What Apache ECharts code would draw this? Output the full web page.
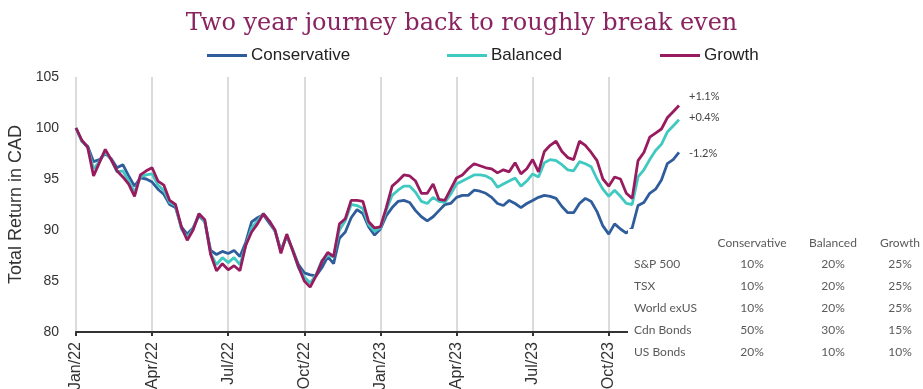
<!DOCTYPE html>
<html>
<head>
<meta charset="utf-8">
<script src="https://cdn.jsdelivr.net/npm/echarts@6/dist/echarts.min.js"></script>
<style>
  html, body { margin: 0; padding: 0; background: #fff; }
  #chart { width: 923px; height: 389px; }
</style>
</head>
<body>
<div id="chart"></div>
<script>
// Weekly index levels (start = 100), first week of Jan 2022 to last week of Dec 2023
const conservative = [
  100.0, 98.7, 98.2, 96.7, 96.9, 97.5, 97.0, 96.1, 96.4, 95.3,
  94.3, 95.1, 95.0, 94.7, 94.0, 93.5, 92.5, 92.2, 90.3, 89.6,
  90.2, 91.4, 90.8, 88.0, 87.6, 87.9, 87.7, 88.0, 87.4, 88.8,
  90.8, 91.2, 91.5, 90.7, 89.9, 88.0, 89.4, 88.1, 86.6, 85.8,
  85.6, 85.5, 86.3, 87.4, 86.7, 89.2, 89.8, 91.2, 92.0, 91.6,
  90.3, 89.5, 90.1, 91.4, 92.2, 92.8, 92.9, 92.7, 91.9, 91.3,
  90.9, 91.3, 91.9, 92.5, 92.6, 93.2, 93.4, 93.4, 93.9, 93.8,
  93.6, 93.2, 92.6, 92.4, 92.9, 92.6, 92.2, 92.6, 92.9, 93.2,
  93.4, 93.3, 93.1, 92.3, 91.7, 91.7, 92.6, 93.1, 92.8, 91.8,
  90.4, 89.6, 90.6, 90.1, 89.7, 90.2, 92.4, 92.7, 93.6, 94.0,
  94.9, 96.5, 96.9, 97.6
];
const balanced = [
  100.0, 98.7, 98.1, 96.0, 96.7, 97.7, 96.9, 95.7, 95.8, 94.8,
  93.7, 95.2, 95.4, 95.5, 94.4, 93.9, 92.7, 92.4, 90.1, 89.3,
  90.1, 91.6, 90.8, 87.7, 86.6, 87.3, 86.8, 87.3, 86.6, 88.5,
  90.2, 90.9, 91.6, 90.9, 89.9, 87.9, 89.5, 88.0, 86.3, 85.4,
  84.8, 85.6, 87.0, 87.5, 87.4, 90.0, 90.9, 92.5, 92.4, 92.1,
  90.5, 89.9, 90.2, 91.9, 93.4, 93.9, 94.3, 94.3, 93.7, 92.8,
  92.6, 93.2, 92.8, 92.7, 93.5, 94.5, 94.8, 95.1, 95.4, 95.4,
  95.3, 95.0, 94.2, 94.5, 94.8, 95.1, 94.3, 94.8, 95.5, 95.2,
  96.6, 96.9, 96.8, 96.4, 95.9, 95.8, 96.7, 96.5, 96.2, 95.0,
  94.0, 93.3, 93.9, 93.3, 92.6, 92.5, 95.2, 95.9, 96.9, 97.8,
  98.4, 99.6, 100.2, 100.8
];
const growth = [
  100.0, 98.8, 98.1, 95.3, 96.6, 97.9, 96.9, 95.8, 95.2, 94.5,
  93.3, 95.4, 95.8, 96.1, 94.8, 94.4, 92.9, 92.5, 90.3, 89.0,
  90.0, 91.6, 91.0, 87.6, 86.0, 86.7, 86.1, 86.5, 86.0, 88.5,
  89.8, 90.6, 91.6, 90.9, 90.0, 87.7, 89.6, 88.0, 86.4, 85.0,
  84.4, 85.5, 86.9, 87.8, 87.4, 90.6, 91.1, 92.9, 92.9, 92.8,
  90.8, 90.2, 90.3, 92.2, 94.3, 94.8, 95.4, 95.3, 94.8, 93.6,
  93.6, 94.5, 93.0, 92.9, 94.0, 95.1, 95.4, 96.0, 96.5, 96.3,
  96.1, 96.0, 95.6, 95.9, 95.7, 96.6, 95.5, 96.0, 96.9, 95.7,
  97.7, 98.3, 98.7, 97.7, 97.1, 96.9, 98.7, 98.3, 97.6, 96.8,
  95.0, 94.3, 95.2, 95.0, 93.6, 93.1, 96.8, 97.6, 99.1, 99.5,
  99.9, 101.0, 101.6, 102.2
];

// Quarter-start tick labels, one every 13 weeks
const tickLabels = ['Jan/22', 'Apr/22', 'Jul/22', 'Oct/22', 'Jan/23', 'Apr/23', 'Jul/23', 'Oct/23'];

// Portfolio mix table
const assetClasses = ['S&P 500', 'TSX', 'World exUS', 'Cdn Bonds', 'US Bonds'];
const mixConservative = ['10%', '10%', '10%', '50%', '20%'];
const mixBalanced = ['20%', '20%', '20%', '30%', '10%'];
const mixGrowth = ['25%', '25%', '25%', '15%', '10%'];

const names = ['Conservative', 'Balanced', 'Growth'];
const colors = ['#2f5d9c', '#3fc9c0', '#981b5f'];

// Week-start dates used as category keys
const weeks = [];
{
  const d = new Date(Date.UTC(2022, 0, 3));
  for (let i = 0; i < growth.length; i++) {
    weeks.push(d.toISOString().slice(0, 10));
    d.setUTCDate(d.getUTCDate() + 7);
  }
}

// Annualised two-year return, shown at the end of each line
function annualised(v) {
  const r = (Math.sqrt(v / 100) - 1) * 100;
  return (r >= 0 ? '+' : '') + r.toFixed(1) + '%';
}

const tableFont = 'Lato, "Open Sans", sans-serif';
const tableColor = '#5a5a5a';
const colX = [752, 833, 900];
const rowY = [264, 286, 308, 330, 352];
const tableTexts = [];
[['Conservative', colX[0]], ['Balanced', colX[1]], ['Growth', colX[2]]].forEach(([t, x]) => {
  tableTexts.push({ type: 'text', x: x, y: 243, z: 101,
    style: { text: t, fill: tableColor, font: '12px ' + tableFont, textAlign: 'center', textVerticalAlign: 'middle' } });
});
assetClasses.forEach((a, r) => {
  tableTexts.push({ type: 'text', x: 634, y: rowY[r], z: 101,
    style: { text: a, fill: tableColor, font: '12px ' + tableFont, textAlign: 'left', textVerticalAlign: 'middle' } });
  [mixConservative, mixBalanced, mixGrowth].forEach((col, c) => {
    tableTexts.push({ type: 'text', x: colX[c], y: rowY[r], z: 101,
      style: { text: col[r], fill: tableColor, font: '12px ' + tableFont, textAlign: 'center', textVerticalAlign: 'middle' } });
  });
});

const endOffsets = [[0, 1], [0, -2], [0, -9]];
const seriesData = [conservative, balanced, growth];

const chart = echarts.init(document.getElementById('chart'), null, { renderer: 'canvas' });
chart.setOption({
  animation: false,
  backgroundColor: '#fff',
  title: {
    text: 'Two year journey back to roughly break even',
    left: 'center',
    top: 7,
    textStyle: { fontFamily: '"DejaVu Serif", serif', fontSize: 24, fontWeight: 'normal', color: '#8a2460' }
  },
  legend: names.map((n, i) => ({
    data: [n],
    left: [207, 447, 660][i],
    top: 47,
    padding: 0,
    itemWidth: 40,
    itemHeight: 3,
    itemGap: 5,
    icon: 'rect',
    textStyle: { fontFamily: '"Liberation Sans", Arial, sans-serif', fontSize: 17, color: '#222', padding: [0, 0, 0, -1] }
  })),
  grid: { left: 76, right: 244, top: 77, bottom: 57, containLabel: false, outerBoundsMode: 'none' },
  xAxis: {
    type: 'category',
    data: weeks,
    boundaryGap: false,
    axisLine: { lineStyle: { color: '#333', width: 2 } },
    axisTick: { show: true, interval: 12, length: 4, lineStyle: { color: '#333', width: 2 } },
    axisLabel: {
      interval: 12,
      rotate: 90,
      margin: 10,
      fontFamily: '"Liberation Sans", Arial, sans-serif',
      fontSize: 16,
      color: '#333',
      formatter: (v, idx) => tickLabels[Math.round(idx / 13)] || ''
    },
    splitLine: { show: true, interval: 12, lineStyle: { color: '#cfcfcf', width: 1.5 } }
  },
  yAxis: {
    type: 'value',
    min: 80,
    max: 105,
    interval: 5,
    name: 'Total Return in CAD',
    nameLocation: 'middle',
    nameGap: 43,
    nameTextStyle: { fontFamily: '"Liberation Sans", Arial, sans-serif', fontSize: 18, color: '#333' },
    axisLine: { show: false },
    axisTick: { show: false },
    splitLine: { show: false },
    axisLabel: { fontFamily: '"Liberation Sans", Arial, sans-serif', fontSize: 14, color: '#333', margin: 17 }
  },
  series: names.map((n, i) => ({
    name: n,
    type: 'line',
    data: seriesData[i],
    showSymbol: false,
    symbol: 'none',
    color: colors[i],
    lineStyle: { width: 2.8, color: colors[i] },
    z: 2 + i,
    endLabel: {
      show: true,
      distance: 10,
      offset: endOffsets[i],
      formatter: p => annualised(p.value),
      fontFamily: tableFont,
      fontSize: 11,
      color: '#444'
    }
  })),
  graphic: [
    { type: 'rect', left: 628, top: 229, z: 100,
      shape: { width: 295, height: 160 }, style: { fill: '#fff' } },
    ...tableTexts
  ]
});
</script>
</body>
</html>
